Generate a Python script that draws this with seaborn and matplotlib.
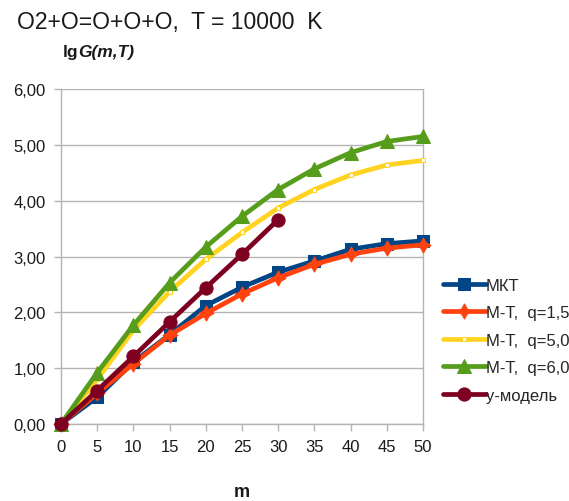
import matplotlib
matplotlib.use("Agg")
import matplotlib.pyplot as plt
import seaborn as sns
import pandas as pd
from matplotlib.ticker import FuncFormatter, MultipleLocator

# ---- data ----
m = [0, 5, 10, 15, 20, 25, 30, 35, 40, 45, 50]
mkt = [0.00, 0.48, 1.11, 1.60, 2.12, 2.45, 2.72, 2.92, 3.13, 3.23, 3.28]
mt_q15 = [0.00, 0.55, 1.08, 1.59, 1.98, 2.33, 2.62, 2.86, 3.04, 3.15, 3.21]
mt_q50 = [0.00, 0.80, 1.68, 2.37, 2.95, 3.43, 3.87, 4.20, 4.46, 4.64, 4.72]
mt_q60 = [0.00, 0.92, 1.77, 2.53, 3.17, 3.72, 4.20, 4.57, 4.86, 5.06, 5.15]
m_ymod = [0, 5, 10, 15, 20, 25, 30]
ymod = [0.00, 0.60, 1.21, 1.83, 2.44, 3.04, 3.66]

labels = ["МКТ", "М-Т,  q=1,5", "М-Т,  q=5,0", "М-Т,  q=6,0", "у-модель"]
title = "O2+O=O+O+O,  T = 10000  K"

sns.set_theme(style="white")
plt.rcParams['font.family'] = ['Liberation Sans', 'DejaVu Sans']

W, H = 569, 502
fig = plt.figure(figsize=(W / 100, H / 100), dpi=100)
ax = fig.add_axes([61 / W, 1 - 425 / H, (423 - 61) / W, (425 - 90) / H])

series = [
    (m, mkt, labels[0], "#004586", "s", 8),
    (m, mt_q15, labels[1], "#ff420e", (4, 1, 0), 11),
    (m, mt_q50, labels[2], "#ffd320", "s", 3),
    (m, mt_q60, labels[3], "#579d1c", "^", 10),
    (m_ymod, ymod, labels[4], "#7e0021", "o", 9.5),
]
order = [2, 3, 0, 1, 4]
for i in order:
    xs, ys, lab, col, mk, ms = series[i]
    df = pd.DataFrame({"m": xs, "v": ys})
    sns.lineplot(data=df, x="m", y="v", ax=ax, color=col, linewidth=3.4,
                 marker=mk, markersize=ms, markeredgecolor=col,
                 markerfacecolor=col if i != 2 else "white",
                 label=lab, zorder=3 + i)

ax.set_xlim(0, 50)
ax.set_ylim(0, 6)
ax.xaxis.set_major_locator(MultipleLocator(5))
ax.yaxis.set_major_locator(MultipleLocator(1))
ax.yaxis.set_major_formatter(FuncFormatter(lambda v, p: f"{v:.2f}".replace(".", ",")))
ax.grid(axis="y", color="#b3b3b3", linewidth=1.0)
ax.grid(axis="x", visible=False)
for s in ["left", "bottom", "right"]:
    ax.spines[s].set_visible(True)
    ax.spines[s].set_color("#b3b3b3")
    ax.spines[s].set_linewidth(1.0)
ax.spines["top"].set_visible(False)
ax.tick_params(axis="both", which="major", direction="out", length=5, width=1,
               color="#b3b3b3", labelsize=12, labelcolor="#1a1a1a", pad=6,
               left=True, bottom=True)
ax.set_xlabel("")
ax.set_ylabel("")
for line in ax.lines:
    line.set_clip_on(False)

h, l = ax.get_legend_handles_labels()
ax.get_legend().remove()
hl = dict(zip(l, h))
fig.legend([hl[x] for x in labels], labels, loc="upper left",
           bbox_to_anchor=(436 / W, 1 - 272 / H), frameon=False,
           fontsize=12, handlelength=2.6, handletextpad=0.0,
           labelspacing=0.75, borderaxespad=0)

fig.text(17 / W, 1 - 22 / H, title, fontsize=16.5, ha="left", va="center",
         color="#1a1a1a")
fig.text(63 / W, 1 - 53 / H, "lg", fontsize=12.5, fontweight="bold",
         ha="left", va="center", color="#1a1a1a")
fig.text(78 / W, 1 - 53 / H, "G(m,T)", fontsize=12.5, fontweight="bold",
         fontstyle="italic", ha="left", va="center", color="#1a1a1a")
fig.text(242 / W, 1 - 493 / H, "m", fontsize=13, fontweight="bold",
         ha="center", va="center", color="#1a1a1a")

fig.savefig("out.png", dpi=100)
